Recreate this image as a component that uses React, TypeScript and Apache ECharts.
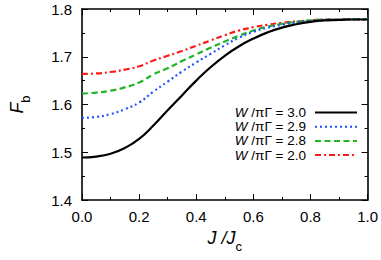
import React, { useEffect, useRef } from "react";
import * as echarts from "echarts";

const X = [0, 0.05, 0.1, 0.15, 0.2, 0.25, 0.3, 0.35, 0.4, 0.45, 0.5, 0.55, 0.6, 0.65, 0.7, 0.75, 0.8, 0.85, 0.9, 0.95, 1.0];
const F30 = [1.489, 1.491, 1.497, 1.509, 1.528, 1.556, 1.588, 1.619, 1.650, 1.678, 1.702, 1.722, 1.738, 1.751, 1.761, 1.768, 1.773, 1.776, 1.777, 1.778, 1.778];
const F29 = [1.572, 1.574, 1.580, 1.590, 1.604, 1.627, 1.648, 1.669, 1.688, 1.706, 1.724, 1.740, 1.752, 1.761, 1.767, 1.772, 1.775, 1.777, 1.778, 1.778, 1.778];
const F28 = [1.623, 1.625, 1.629, 1.636, 1.646, 1.663, 1.676, 1.691, 1.705, 1.719, 1.732, 1.744, 1.755, 1.763, 1.769, 1.773, 1.776, 1.778, 1.778, 1.779, 1.779];
const F20 = [1.664, 1.665, 1.668, 1.673, 1.680, 1.692, 1.702, 1.712, 1.723, 1.734, 1.745, 1.755, 1.762, 1.767, 1.771, 1.774, 1.776, 1.778, 1.778, 1.779, 1.779];
const SERIES_NAMES = ["W /πΓ = 3.0", "W /πΓ = 2.9", "W /πΓ = 2.8", "W /πΓ = 2.0"];
const X_TICKS = [0, 0.2, 0.4, 0.6, 0.8, 1.0];
const Y_TICKS = [1.4, 1.5, 1.6, 1.7, 1.8];

const FONT = "Liberation Sans, Arial, Helvetica, sans-serif";

export default function App() {
  const ref = useRef<HTMLDivElement>(null);
  useEffect(() => {
    if (!ref.current) return;
    const chart = echarts.init(ref.current, null, { renderer: "svg" });
    const pairs = (ys: number[]) => X.map((x, i) => [x, ys[i]]);
    const styles = [
      { color: "#000000", width: 2.2, type: "solid" as any },
      { color: "#1f4fff", width: 2.2, type: [2, 3] as any },
      { color: "#22b422", width: 2.2, type: [6, 3.5] as any },
      { color: "#ff1a1a", width: 2.2, type: [6, 3, 2, 3] as any },
    ];
    const allY = [F30, F29, F28, F20];
    const axisCommon = {
      axisLine: { show: true, onZero: false, lineStyle: { color: "#000", width: 1.6 } },
      axisTick: { show: true, inside: true, length: 6, lineStyle: { color: "#000", width: 1 } },
      minorTick: { show: true, splitNumber: 2, length: 3, lineStyle: { color: "#000", width: 1 } },
      splitLine: { show: false },
      minorSplitLine: { show: false },
    };
    const nameRich = {
      i: { fontFamily: FONT, fontSize: 18, fontStyle: "italic", color: "#000", lineHeight: 30, verticalAlign: "middle" },
      s: { fontFamily: FONT, fontSize: 13, color: "#000", lineHeight: 13, verticalAlign: "bottom" },
    };
    const option: any = {
      animation: false,
      backgroundColor: "#fff",
      grid: { left: 77, right: 13, top: 9, bottom: 60, containLabel: false },
      legend: {
        orient: "vertical",
        right: 23,
        top: 105.5,
        padding: 0,
        itemWidth: 42,
        itemHeight: 15,
        itemGap: 0.2,
        align: "right",
        data: SERIES_NAMES,
        itemStyle: { opacity: 0, color: "transparent", borderColor: "transparent", borderWidth: 0 },
        formatter: (name: string) => "{i|W}{n|" + name.slice(1) + "}",
        textStyle: {
          fontFamily: FONT,
          fontSize: 13.5,
          color: "#000",
          padding: [0, 4, 0, 0],
          rich: {
            i: { fontFamily: FONT, fontSize: 13.5, fontStyle: "italic", color: "#000", lineHeight: 15 },
            n: { fontFamily: FONT, fontSize: 13.5, color: "#000", lineHeight: 15 },
          },
        },
      },
      xAxis: [
        {
          ...axisCommon,
          type: "value",
          min: 0,
          max: 1,
          interval: 0.2,
          position: "bottom",
          axisLabel: {
            fontFamily: FONT,
            fontSize: 15,
            color: "#000",
            margin: 9,
            formatter: (v: number) => (X_TICKS.some((t) => Math.abs(t - v) < 1e-9) ? v.toFixed(1) : ""),
          },
          name: "{i|J /J}{s|c}",
          nameLocation: "middle",
          nameGap: 18,
          nameTextStyle: { rich: nameRich },
        },
        {
          ...axisCommon,
          type: "value",
          min: 0,
          max: 1,
          interval: 0.2,
          position: "top",
          axisLabel: { show: false },
        },
      ],
      yAxis: [
        {
          ...axisCommon,
          type: "value",
          min: 1.4,
          max: 1.8,
          interval: 0.1,
          position: "left",
          axisLabel: {
            fontFamily: FONT,
            fontSize: 15,
            color: "#000",
            margin: 10,
            formatter: (v: number) => (Y_TICKS.some((t) => Math.abs(t - v) < 1e-9) ? v.toFixed(1) : ""),
          },
          name: "{i|F}{s|b}",
          nameLocation: "middle",
          nameGap: 50,
          nameRotate: 90,
          nameTextStyle: { rich: nameRich },
        },
        {
          ...axisCommon,
          type: "value",
          min: 1.4,
          max: 1.8,
          interval: 0.1,
          position: "right",
          axisLabel: { show: false },
        },
      ],
      series: SERIES_NAMES.map((name, i) => ({
        name,
        type: "line",
        xAxisIndex: 0,
        yAxisIndex: 0,
        data: pairs(allY[i]),
        showSymbol: false,
        symbol: "none",
        smooth: 0.5,
        z: 10 - i,
        lineStyle: { ...styles[i], cap: "butt" },
        itemStyle: { color: styles[i].color },
      })),
    };
    chart.setOption(option);
    return () => chart.dispose();
  }, []);
  return <div ref={ref} style={{ position: "fixed", left: 0, top: 0, width: 381, height: 260 }} />;
}
